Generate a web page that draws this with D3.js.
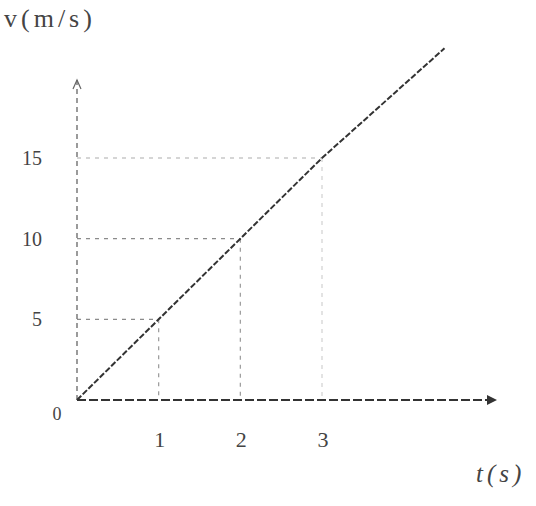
<!DOCTYPE html>
<html>
<head>
<meta charset="utf-8">
<script src="https://cdn.jsdelivr.net/npm/d3@7"></script>
<style>
  html, body { margin: 0; padding: 0; background: #fff; }
  svg { display: block; }
  text { font-family: "Liberation Serif", "DejaVu Serif", serif; fill: #444; }
</style>
</head>
<body>
<div id="app"></div>
<script>
const WIDTH = 536;
const HEIGHT = 506;

// values
const tTicks = [1, 2, 3];
const vTicks = [5, 10, 15];
const lineT = [0, 1, 2, 3, 4.5];
const lineV = [0, 5, 10, 15, 21.8];

const x = d3.scaleLinear().domain([0, 3]).range([77, 322]);
const y = d3.scaleLinear().domain([0, 15]).range([400, 158]);

const svg = d3.select('#app')
  .append('svg')
  .attr('width', WIDTH)
  .attr('height', HEIGHT);

// dashed helper lines from each point to the axes
const guides = svg.append('g')
  .attr('stroke', '#777')
  .attr('stroke-width', 1.2)
  .attr('stroke-dasharray', '4,5')
  .attr('fill', 'none');

tTicks.forEach((t, i) => {
  const v = vTicks[i];
  guides.append('line')
    .attr('x1', x(0)).attr('y1', y(v))
    .attr('x2', x(t)).attr('y2', y(v))
    .attr('opacity', i === 2 ? 0.6 : 0.85);
  guides.append('line')
    .attr('x1', x(t)).attr('y1', y(v))
    .attr('x2', x(t)).attr('y2', y(0))
    .attr('opacity', i === 2 ? 0.35 : 0.75);
});

// y axis (drawn dotted like the scan) with arrow
const yTop = 80;
svg.append('line')
  .attr('x1', x(0)).attr('y1', y(0))
  .attr('x2', x(0)).attr('y2', yTop)
  .attr('stroke', '#666')
  .attr('stroke-width', 1.3)
  .attr('stroke-dasharray', '5,4');
svg.append('path')
  .attr('d', `M${x(0) - 4},${yTop + 9} L${x(0)},${yTop} L${x(0) + 4},${yTop + 9}`)
  .attr('fill', 'none')
  .attr('stroke', '#666')
  .attr('stroke-width', 1.2);

// x axis with arrow
const xEnd = 497;
svg.append('line')
  .attr('x1', x(0)).attr('y1', y(0))
  .attr('x2', xEnd).attr('y2', y(0))
  .attr('stroke', '#333')
  .attr('stroke-width', 2)
  .attr('stroke-dasharray', '9,3');
svg.append('path')
  .attr('d', `M${xEnd - 10},${y(0) - 5} L${xEnd},${y(0)} L${xEnd - 10},${y(0) + 5} Z`)
  .attr('fill', '#333');

// the v-t line
const line = d3.line()
  .x((d, i) => x(lineT[i]))
  .y(d => y(d));
svg.append('path')
  .datum(lineV)
  .attr('d', line)
  .attr('fill', 'none')
  .attr('stroke', '#333')
  .attr('stroke-width', 2)
  .attr('stroke-dasharray', '6,2');

// tick labels
svg.selectAll('text.vt')
  .data(vTicks)
  .enter()
  .append('text')
  .attr('class', 'vt')
  .attr('x', 42)
  .attr('y', d => y(d) + 7)
  .attr('text-anchor', 'end')
  .attr('font-size', '20px')
  .text(d => d);

svg.selectAll('text.tt')
  .data(tTicks)
  .enter()
  .append('text')
  .attr('class', 'tt')
  .attr('x', d => x(d) + 1)
  .attr('y', 447)
  .attr('text-anchor', 'middle')
  .attr('font-size', '22px')
  .text(d => d);

svg.append('text')
  .attr('x', 57)
  .attr('y', 420)
  .attr('text-anchor', 'middle')
  .attr('font-size', '18px')
  .attr('fill', '#999')
  .text('0');

// axis titles
svg.append('text')
  .attr('x', 4)
  .attr('y', 27)
  .attr('font-size', '26px')
  .attr('letter-spacing', '4px')
  .text('v(m/s)');

svg.append('text')
  .attr('x', 476)
  .attr('y', 482)
  .attr('font-size', '25px')
  .attr('letter-spacing', '4px')
  .attr('font-style', 'italic')
  .attr('fill', '#777')
  .text('t(s)');
</script>
</body>
</html>
